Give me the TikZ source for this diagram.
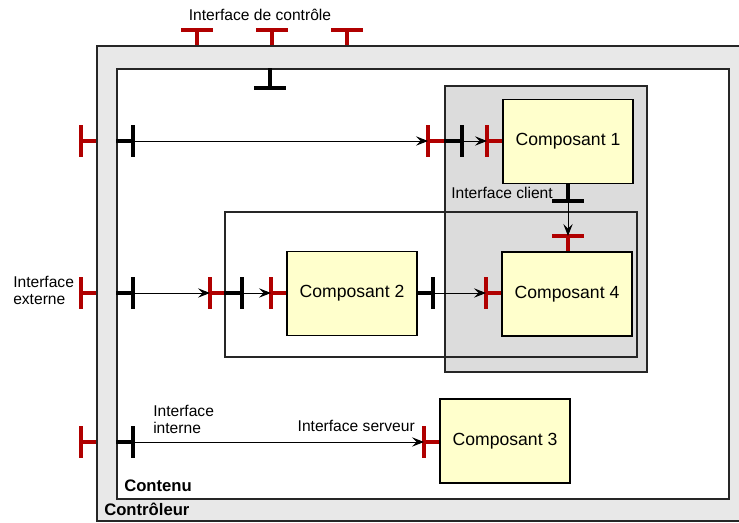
\documentclass[tikz,border=0pt]{standalone}
\usepackage{fontspec}
\setmainfont{Liberation Sans}
\usepackage{tikz}
\usetikzlibrary{arrows.meta}
\usepackage{xcolor}
\definecolor{ifred}{HTML}{B00000}
\definecolor{compyel}{HTML}{FFFFCC}
\definecolor{ctrlgray}{HTML}{E8E8E8}
\definecolor{grpgray}{HTML}{DCDCDC}

\begin{document}
\begin{tikzpicture}[x=0.75pt,y=-0.75pt,>={Stealth[length=9pt,width=7pt,inset=3.5pt]}, every node/.style={font=\fontsize{11.7}{12.75}\selectfont, inner sep=0pt}]
\tikzstyle{frame}=[draw=black!85, line width=1.4pt]
\tikzstyle{comp}=[draw, line width=1.4pt, fill=compyel, minimum width=97.5pt, minimum height=63pt, font=\fontsize{13.2}{15}\selectfont]
\tikzstyle{srv}=[draw=ifred, line width=2.4pt]
\tikzstyle{clt}=[draw=black, line width=2.4pt]
\tikzstyle{link}=[->, line width=0.7pt]
\tikzstyle{title}=[anchor=west, font=\bfseries\fontsize{12.5}{14}\selectfont]
\useasboundingbox (0,0) rectangle (739,523);
% membranes
\node[frame, fill=ctrlgray, minimum width=484.5pt, minimum height=356.25pt] (ctrl) at (420,283.5) {};
\node[frame, fill=white, minimum width=459pt, minimum height=322.5pt] (cont) at (423,284) {};
\node[frame, fill=grpgray, minimum width=151.5pt, minimum height=214.5pt] (grp) at (546,229) {};
\node[frame, minimum width=309pt, minimum height=108.75pt] (sub) at (431,284.5) {};
% composants
\node[comp] (c1) at (568,141.5) {Composant 1};
\node[comp] (c2) at (352,293.5) {Composant 2};
\node[comp] (c3) at (505,441) {Composant 3};
\node[comp] (c4) at (567,294) {Composant 4};
% interfaces
\foreach \x [count=\i] in {197,272,347} \coordinate (t\i) at (\x,30);
\foreach \y [count=\i] in {141,293,442} {\coordinate (e\i) at (81,\y); \coordinate (i\i) at (133,\y);}
\coordinate (ti) at (270,88);
\coordinate (g1s) at (428,141); \coordinate (g1c) at (462,141); \coordinate (c1s) at (487,141);
\coordinate (s2s) at (210,293); \coordinate (s2c) at (242,293); \coordinate (c2s) at (271,293);
\coordinate (c2c) at (433,293); \coordinate (c4s) at (486,293);
\coordinate (c3s) at (424,442);
\coordinate (c1c) at (568,201); \coordinate (c4t) at (568,236);
\foreach \p/\q/\s in {e1/ctrl.west/srv,e2/ctrl.west/srv,e3/ctrl.west/srv,i1/cont.west/clt,i2/cont.west/clt,i3/cont.west/clt,
  g1s/grp.west/srv,g1c/grp.west/clt,c1s/c1.west/srv,s2s/sub.west/srv,s2c/sub.west/clt,c2s/c2.west/srv,
  c2c/c2.east/clt,c4s/c4.west/srv,c3s/c3.west/srv}
  \draw[\s] ([yshift=-12pt]\p) -- ([yshift=12pt]\p) (\p) -- (\q |- \p);
\foreach \p/\q/\s in {t1/ctrl.north/srv,t2/ctrl.north/srv,t3/ctrl.north/srv,ti/cont.north/clt,c1c/c1.south/clt,c4t/c4.north/srv}
  \draw[\s] ([xshift=-12pt]\p) -- ([xshift=12pt]\p) (\p) -- (\p |- \q);
% liaisons
\draw[link] (i1) -- (g1s); \draw[link] (g1c) -- (c1s);
\draw[link] (i2) -- (s2s); \draw[link] (s2c) -- (c2s); \draw[link] (c2c) -- (c4s);
\draw[link] (c1c) -- (c4t); \draw[link] (i3) -- (c3s);
% textes
\node (lctl) at (260,15) {Interface de contrôle};
\node[anchor=west, align=left] (lext) at (13,290.5) {Interface\\externe};
\node[anchor=west, align=left] (lint) at (153,419.5) {Interface\\interne};
\node[anchor=east] (lsrv) at (415,426) {Interface serveur};
\node[anchor=east] (lcli) at (553,193) {Interface client};
\node[title] (lcont) at (124,486) {Contenu};
\node[title] (lctrl) at (104,509) {Contrôleur};
\end{tikzpicture}
\end{document}
